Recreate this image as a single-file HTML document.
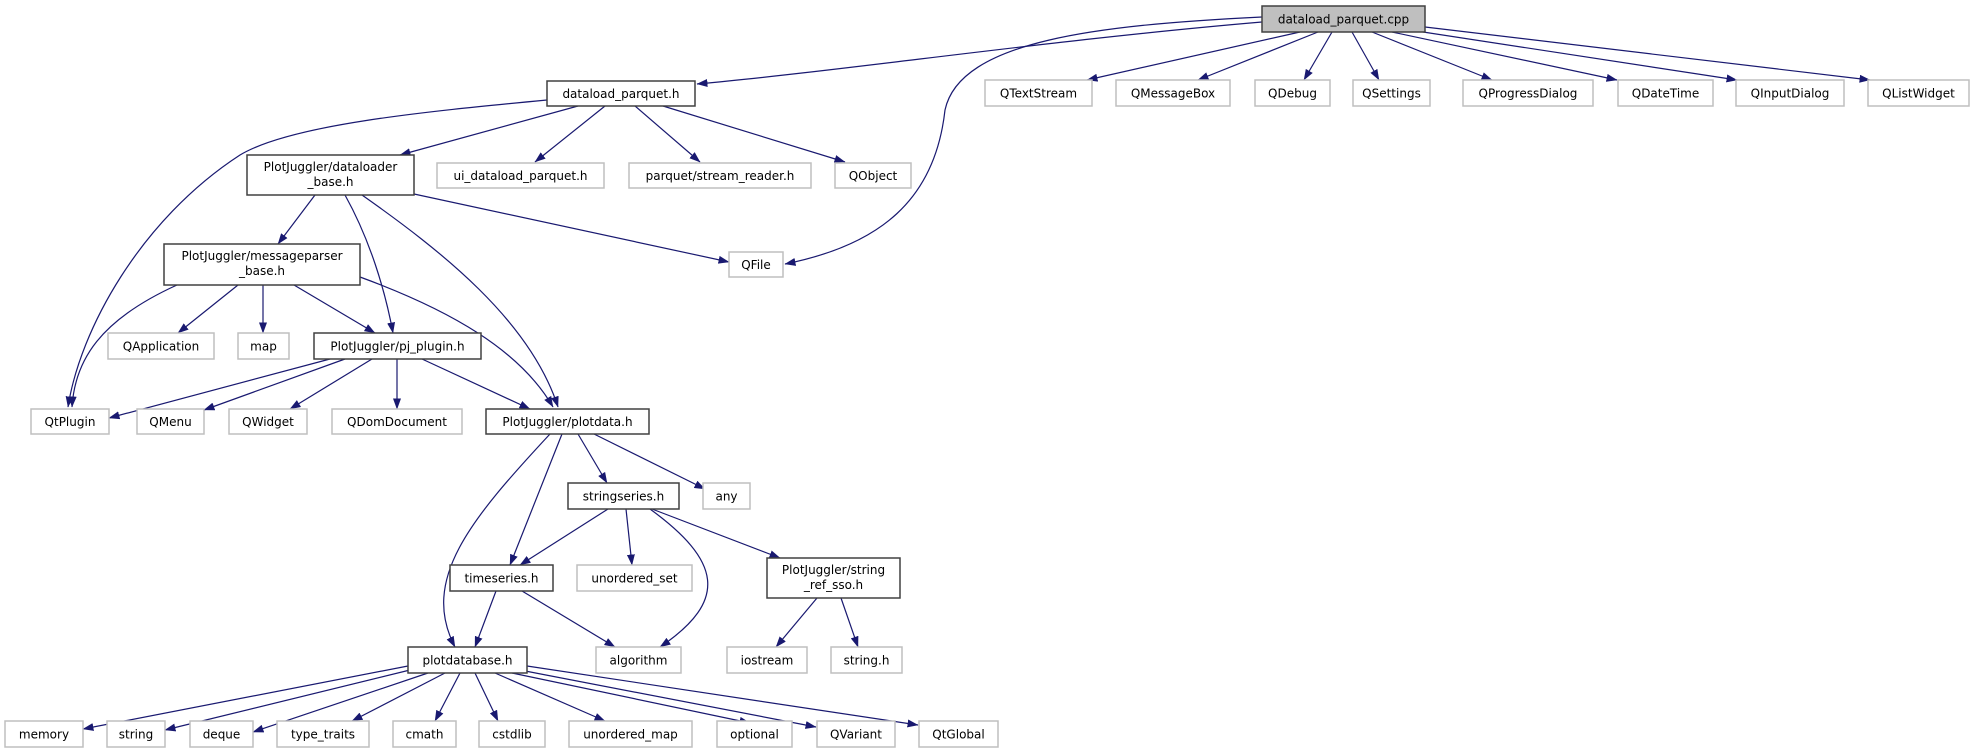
<!DOCTYPE html>
<html><head><meta charset="utf-8"><style>
html,body{margin:0;padding:0;background:#fff;}
svg{display:block;}
text{font-family:"DejaVu Sans","Liberation Sans",sans-serif;font-size:12px;fill:#000;}
.b{fill:#fff;stroke:#404040;stroke-width:1.5;}
.g{fill:#fff;stroke:#bfbfbf;stroke-width:1.5;}
.e{fill:none;stroke:#191970;stroke-width:1.2;marker-end:url(#a);}
</style></head><body>
<svg width="1975" height="753" viewBox="0 0 1975 753" xmlns="http://www.w3.org/2000/svg">
<defs><marker id="a" markerUnits="userSpaceOnUse" markerWidth="11" markerHeight="8" refX="10.5" refY="4" orient="auto"><path d="M0,0 L11,4 L0,8 z" fill="#191970"/></marker></defs>
<g>
<path class="e" d="M1262,22 C1050,40 850,70 697,84"/>
<path class="e" d="M1262,17 C1100,25 960,40 945,110 C935,200 880,245 785,264"/>
<path class="e" d="M1300,32 L1087,80"/>
<path class="e" d="M1318,32 L1198,80"/>
<path class="e" d="M1332,32 L1304,80"/>
<path class="e" d="M1352,32 L1379,80"/>
<path class="e" d="M1372,32 L1492,80"/>
<path class="e" d="M1392,32 L1617,80"/>
<path class="e" d="M1410,30 L1737,80"/>
<path class="e" d="M1425,27 L1870,80"/>
<path class="e" d="M547,100 C420,112 290,125 240,155 C140,220 80,330 68,407"/>
<path class="e" d="M578,106 L400,155"/>
<path class="e" d="M605,106 L535,162"/>
<path class="e" d="M635,106 L700,162"/>
<path class="e" d="M663,106 L845,162"/>
<path class="e" d="M414,194 L729,262"/>
<path class="e" d="M315,195 L278,244"/>
<path class="e" d="M345,195 C370,240 385,290 393,333"/>
<path class="e" d="M362,195 C440,250 530,320 558,407"/>
<path class="e" d="M177,285 C100,320 75,360 72,407"/>
<path class="e" d="M238,285 L178,333"/>
<path class="e" d="M263,285 L263,333"/>
<path class="e" d="M294,285 L375,333"/>
<path class="e" d="M360,277 C450,310 520,350 553,407"/>
<path class="e" d="M330,359 L109,418"/>
<path class="e" d="M345,359 L204,410"/>
<path class="e" d="M372,359 L290,409"/>
<path class="e" d="M397,359 L397,409"/>
<path class="e" d="M422,359 L530,409"/>
<path class="e" d="M550,434 C470,520 420,580 455,647"/>
<path class="e" d="M562,434 L510,565"/>
<path class="e" d="M578,434 L607,483"/>
<path class="e" d="M594,434 L705,489"/>
<path class="e" d="M608,509 L520,565"/>
<path class="e" d="M626,509 L632,565"/>
<path class="e" d="M650,509 C720,560 730,600 660,647"/>
<path class="e" d="M652,509 L780,558"/>
<path class="e" d="M496,591 L475,647"/>
<path class="e" d="M522,591 L615,647"/>
<path class="e" d="M817,598 L776,647"/>
<path class="e" d="M841,598 L858,647"/>
<path class="e" d="M408,666 L83,729"/>
<path class="e" d="M410,670 L165,730"/>
<path class="e" d="M428,673 L253,732"/>
<path class="e" d="M445,673 L352,721"/>
<path class="e" d="M460,673 L435,721"/>
<path class="e" d="M475,673 L498,721"/>
<path class="e" d="M495,673 L605,721"/>
<path class="e" d="M512,673 L750,723"/>
<path class="e" d="M520,670 L816,727"/>
<path class="e" d="M527,666 L918,725"/>
</g>
<rect x="1262" y="6" width="163" height="26" fill="#bfbfbf" stroke="#404040" stroke-width="1.5"/><text x="1343.5" y="23.5" text-anchor="middle">dataload_parquet.cpp</text>
<rect class="b" x="547" y="81" width="148" height="25"/><text x="621" y="98" text-anchor="middle">dataload_parquet.h</text>
<rect class="g" x="985" y="80" width="107" height="26"/><text x="1038.5" y="97.5" text-anchor="middle">QTextStream</text>
<rect class="g" x="1116" y="80" width="114" height="26"/><text x="1173" y="97.5" text-anchor="middle">QMessageBox</text>
<rect class="g" x="1255" y="80" width="75" height="26"/><text x="1292.5" y="97.5" text-anchor="middle">QDebug</text>
<rect class="g" x="1353" y="80" width="77" height="26"/><text x="1391.5" y="97.5" text-anchor="middle">QSettings</text>
<rect class="g" x="1463" y="80" width="130" height="26"/><text x="1528" y="97.5" text-anchor="middle">QProgressDialog</text>
<rect class="g" x="1618" y="80" width="95" height="26"/><text x="1665.5" y="97.5" text-anchor="middle">QDateTime</text>
<rect class="g" x="1736" y="80" width="108" height="26"/><text x="1790" y="97.5" text-anchor="middle">QInputDialog</text>
<rect class="g" x="1868" y="80" width="101" height="26"/><text x="1918.5" y="97.5" text-anchor="middle">QListWidget</text>
<rect class="b" x="247" y="155" width="167" height="40"/><text x="330.5" y="171" text-anchor="middle">PlotJuggler/dataloader</text><text x="330.5" y="186" text-anchor="middle">_base.h</text>
<rect class="g" x="437" y="163" width="167" height="25"/><text x="520.5" y="180" text-anchor="middle">ui_dataload_parquet.h</text>
<rect class="g" x="629" y="163" width="182" height="25"/><text x="720" y="180" text-anchor="middle">parquet/stream_reader.h</text>
<rect class="g" x="835" y="163" width="76" height="25"/><text x="873" y="180" text-anchor="middle">QObject</text>
<rect class="g" x="729" y="252" width="54" height="25"/><text x="756" y="269" text-anchor="middle">QFile</text>
<rect class="b" x="164" y="244" width="196" height="41"/><text x="262" y="260" text-anchor="middle">PlotJuggler/messageparser</text><text x="262" y="275" text-anchor="middle">_base.h</text>
<rect class="g" x="108" y="333" width="106" height="26"/><text x="161" y="350.5" text-anchor="middle">QApplication</text>
<rect class="g" x="238" y="333" width="51" height="26"/><text x="263.5" y="350.5" text-anchor="middle">map</text>
<rect class="b" x="314" y="333" width="167" height="26"/><text x="397.5" y="350.5" text-anchor="middle">PlotJuggler/pj_plugin.h</text>
<rect class="g" x="31" y="409" width="78" height="25"/><text x="70" y="426" text-anchor="middle">QtPlugin</text>
<rect class="g" x="137" y="409" width="67" height="25"/><text x="170.5" y="426" text-anchor="middle">QMenu</text>
<rect class="g" x="229" y="409" width="78" height="25"/><text x="268" y="426" text-anchor="middle">QWidget</text>
<rect class="g" x="332" y="409" width="130" height="25"/><text x="397" y="426" text-anchor="middle">QDomDocument</text>
<rect class="b" x="486" y="409" width="163" height="25"/><text x="567.5" y="426" text-anchor="middle">PlotJuggler/plotdata.h</text>
<rect class="b" x="568" y="483" width="111" height="26"/><text x="623.5" y="500.5" text-anchor="middle">stringseries.h</text>
<rect class="g" x="703" y="483" width="47" height="26"/><text x="726.5" y="500.5" text-anchor="middle">any</text>
<rect class="b" x="450" y="565" width="103" height="26"/><text x="501.5" y="582.5" text-anchor="middle">timeseries.h</text>
<rect class="g" x="577" y="565" width="115" height="26"/><text x="634.5" y="582.5" text-anchor="middle">unordered_set</text>
<rect class="b" x="767" y="558" width="133" height="40"/><text x="833.5" y="574" text-anchor="middle">PlotJuggler/string</text><text x="833.5" y="589" text-anchor="middle">_ref_sso.h</text>
<rect class="b" x="408" y="647" width="119" height="26"/><text x="467.5" y="664.5" text-anchor="middle">plotdatabase.h</text>
<rect class="g" x="596" y="647" width="85" height="26"/><text x="638.5" y="664.5" text-anchor="middle">algorithm</text>
<rect class="g" x="727" y="647" width="80" height="26"/><text x="767" y="664.5" text-anchor="middle">iostream</text>
<rect class="g" x="831" y="647" width="71" height="26"/><text x="866.5" y="664.5" text-anchor="middle">string.h</text>
<rect class="g" x="5" y="721" width="78" height="26"/><text x="44" y="738.5" text-anchor="middle">memory</text>
<rect class="g" x="107" y="721" width="58" height="26"/><text x="136" y="738.5" text-anchor="middle">string</text>
<rect class="g" x="190" y="721" width="63" height="26"/><text x="221.5" y="738.5" text-anchor="middle">deque</text>
<rect class="g" x="277" y="721" width="92" height="26"/><text x="323" y="738.5" text-anchor="middle">type_traits</text>
<rect class="g" x="393" y="721" width="63" height="26"/><text x="424.5" y="738.5" text-anchor="middle">cmath</text>
<rect class="g" x="479" y="721" width="66" height="26"/><text x="512" y="738.5" text-anchor="middle">cstdlib</text>
<rect class="g" x="569" y="721" width="123" height="26"/><text x="630.5" y="738.5" text-anchor="middle">unordered_map</text>
<rect class="g" x="717" y="721" width="75" height="26"/><text x="754.5" y="738.5" text-anchor="middle">optional</text>
<rect class="g" x="817" y="721" width="78" height="26"/><text x="856" y="738.5" text-anchor="middle">QVariant</text>
<rect class="g" x="919" y="721" width="79" height="26"/><text x="958.5" y="738.5" text-anchor="middle">QtGlobal</text>
</svg>
</body></html>
